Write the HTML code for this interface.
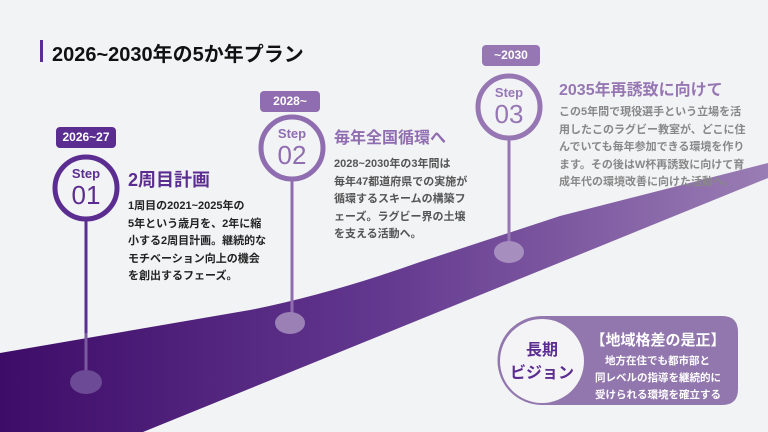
<!DOCTYPE html>
<html><head><meta charset="utf-8"><style>
html,body{margin:0;padding:0}
body{width:768px;height:432px;background:#f2f3f5;position:relative;overflow:hidden;font-family:"Liberation Sans","Noto Sans CJK JP",sans-serif;font-weight:bold}
.a{position:absolute;white-space:nowrap}
.tag{position:absolute;height:21px;border-radius:4px;color:#fff;font-size:12px;line-height:21px;text-align:center}
.body{position:absolute;font-size:11px;line-height:17.5px;white-space:nowrap}
</style></head><body>
<svg class="a" style="left:0;top:0" width="768" height="432">
<defs><linearGradient id="g" x1="0" x2="1" y1="0" y2="0"><stop offset="0" stop-color="#3d0c68"/><stop offset="0.5" stop-color="#63388f"/><stop offset="1" stop-color="#9a7db4"/></linearGradient></defs>
<path d="M0,353 L250,310 Q330,294 420,262 L560,216 L768,163 L768,178 L143,432 L0,432 Z" fill="url(#g)"/>
<rect x="40" y="40" width="3" height="22" fill="#5c2d91"/>
<line x1="86" y1="220" x2="86" y2="382" stroke="#5c2d91" stroke-width="3"/>
<line x1="86" y1="333" x2="86" y2="382" stroke="#7a5aa0" stroke-width="3"/>
<ellipse cx="86" cy="382" rx="16" ry="12" fill="#6d4a95"/>
<circle cx="86" cy="188" r="31" fill="#f2f3f5" stroke="#5c2d91" stroke-width="5"/>
<line x1="292" y1="180" x2="292" y2="323" stroke="#8f6db0" stroke-width="3"/>
<ellipse cx="290" cy="323" rx="15" ry="11" fill="#9a80b4"/>
<circle cx="292" cy="148" r="31" fill="#f2f3f5" stroke="#8f6db0" stroke-width="5"/>
<line x1="509" y1="138" x2="509" y2="252" stroke="#9677b3" stroke-width="3"/>
<ellipse cx="509" cy="252" rx="15" ry="11" fill="#a68fbf"/>
<circle cx="509" cy="107" r="31" fill="#f2f3f5" stroke="#9677b3" stroke-width="5"/>
<path d="M542,316 L722,316 Q738,316 738,332 L738,389 Q738,405 722,405 L542,405 A44.5,44.5 0 0 1 542,316 Z" fill="#9277ae"/>
<circle cx="542" cy="361" r="42" fill="#f4f4f6"/>
</svg>
<div class="a" style="left:52px;top:38px;font-size:20px;color:#111">2026~2030年の5か年プラン</div>

<div class="tag" style="left:56px;top:127px;width:60px;background:#5c2d91">2026~27</div>
<div class="a" style="left:56px;top:166px;width:60px;text-align:center;color:#5c2d91;font-size:13px">Step</div>
<div class="a" style="left:56px;top:180px;width:60px;text-align:center;color:#5c2d91;font-size:26px;font-weight:normal">01</div>
<div class="a" style="left:128px;top:166px;font-size:18px;color:#5c2d91">2周目計画</div>
<div class="body" style="left:128px;top:198px;color:#222">1周目の2021~2025年の<br>5年という歳月を、2年に縮<br>小する2周目計画。継続的な<br>モチベーション向上の機会<br>を創出するフェーズ。</div>

<div class="tag" style="left:260px;top:91px;width:60px;background:#8f6db0">2028~</div>
<div class="a" style="left:262px;top:126px;width:60px;text-align:center;color:#8f6db0;font-size:13px">Step</div>
<div class="a" style="left:262px;top:140px;width:60px;text-align:center;color:#8f6db0;font-size:26px;font-weight:normal">02</div>
<div class="a" style="left:334px;top:124px;font-size:16px;color:#8f6db0">毎年全国循環へ</div>
<div class="body" style="left:334px;top:156px;color:#555">2028~2030年の3年間は<br>毎年47都道府県での実施が<br>循環するスキームの構築フ<br>ェーズ。ラグビー界の土壌<br>を支える活動へ。</div>

<div class="tag" style="left:482px;top:45px;width:58px;background:#9677b3">~2030</div>
<div class="a" style="left:479px;top:85px;width:60px;text-align:center;color:#9677b3;font-size:13px">Step</div>
<div class="a" style="left:479px;top:99px;width:60px;text-align:center;color:#9677b3;font-size:26px;font-weight:normal">03</div>
<div class="a" style="left:559px;top:76px;font-size:16px;color:#9677b3">2035年再誘致に向けて</div>
<div class="body" style="left:559px;top:104px;color:#888">この5年間で現役選手という立場を活<br>用したこのラグビー教室が、どこに住<br>んでいても毎年参加できる環境を作り<br>ます。その後はW杯再誘致に向けて育<br>成年代の環境改善に向けた活動へ。</div>

<div class="a" style="left:501px;top:339px;width:82px;text-align:center;color:#5c2d91;font-size:16px;line-height:23px">長期<br>ビジョン</div>
<div class="a" style="left:588px;top:329px;width:140px;text-align:center;color:#fff;font-size:15px">【地域格差の是正】</div>
<div class="a" style="left:595px;top:353px;width:125px;text-align:center;color:#fff;font-size:10.5px;line-height:17px">地方在住でも都市部と<br>同レベルの指導を継続的に<br>受けられる環境を確立する</div>
</body></html>
